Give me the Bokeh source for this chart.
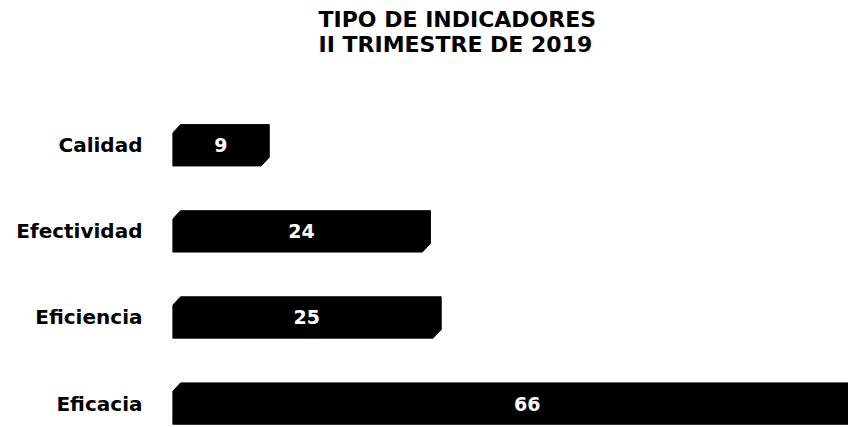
from bokeh.plotting import figure
from bokeh.models import Range1d, FixedTicker, ColumnDataSource
from bokeh.embed import file_html
from bokeh.resources import INLINE
from bokeh.core.properties import value

categories = ["Eficacia", "Eficiencia", "Efectividad", "Calidad"]
counts = [66, 25, 24, 9]
title_lines = ["TIPO DE INDICADORES", "II TRIMESTRE DE 2019"]

pos = list(range(len(categories)))
half_h = 0.24
cx = 0.75
cy = 0.1
xs = [[0, 0, cx, v, v, v - cx] for v in counts]
ys = [[q - half_h, q + half_h - cy, q + half_h, q + half_h, q - half_h + cy, q - half_h] for q in pos]

bars = ColumnDataSource(dict(xs=xs, ys=ys))
labels = ColumnDataSource(dict(x=[v / 2 for v in counts], y=pos, t=[str(v) for v in counts]))

p = figure(width=848, height=427, x_range=Range1d(0, 62.9), y_range=Range1d(-0.278, 3.938),
           output_backend="svg", toolbar_location=None,
           min_border_left=172, min_border_right=0, min_border_bottom=0, min_border_top=0)

p.patches("xs", "ys", source=bars, fill_color="black", line_color="black")
p.text("x", "y", text="t", source=labels, text_color="white", text_align="center",
       text_baseline="middle", text_font_size="19px", text_font_style="bold",
       text_font=value("DejaVu Sans"))

p.xaxis.visible = False
p.xgrid.visible = False
p.ygrid.visible = False
p.outline_line_color = None

ya = p.yaxis[0]
ya.ticker = FixedTicker(ticks=pos)
ya.major_label_overrides = {i: c for i, c in enumerate(categories)}
ya.axis_line_color = None
ya.major_tick_line_color = None
ya.minor_tick_line_color = None
ya.major_label_standoff = 24
ya.major_label_text_font = "DejaVu Sans"
ya.major_label_text_font_style = "bold"
ya.major_label_text_font_size = "20px"
ya.major_label_text_color = "black"

p.title.text = "\n".join(title_lines)
p.title.align = "left"
p.title.vertical_align = "top"
p.title.offset = 146
p.title.text_font = "DejaVu Sans"
p.title.text_font_size = "22px"
p.title.text_font_style = "bold"
p.title.text_color = "black"
p.title.text_line_height = 1.0
p.title.standoff = 12

open("out.html", "w").write(file_html(p, INLINE))
